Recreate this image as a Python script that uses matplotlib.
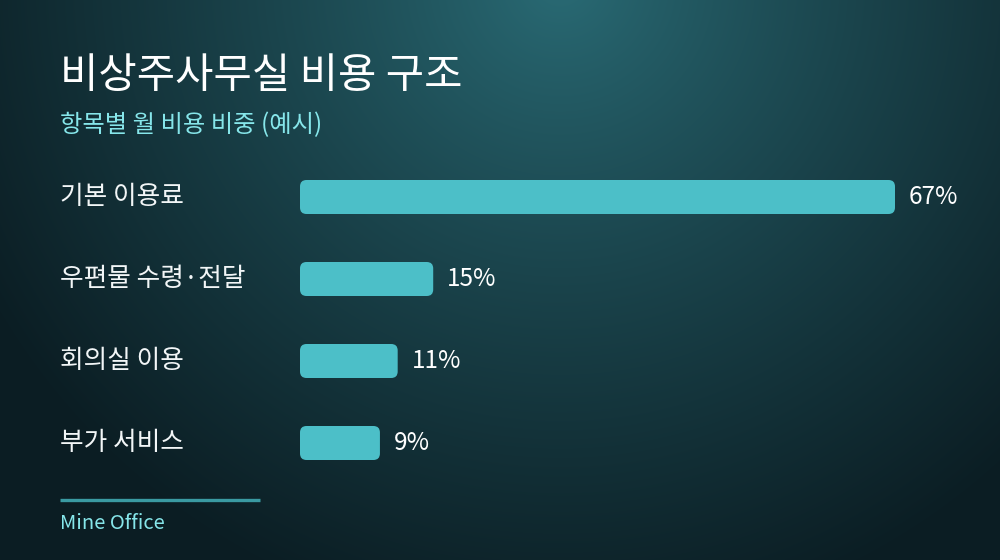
import numpy as np
import matplotlib
matplotlib.use("Agg")
import matplotlib.pyplot as plt
from matplotlib.patches import FancyBboxPatch
from matplotlib.colors import to_rgb
from matplotlib.transforms import blended_transform_factory

plt.rcParams['font.family'] = ['Noto Sans CJK KR', 'DejaVu Sans']

# ---- data ----
title = "비상주사무실 비용 구조"
subtitle = "항목별 월 비용 비중 (예시)"
categories = ["기본 이용료", "우편물 수령·전달", "회의실 이용", "부가 서비스"]
values = [67, 15, 11, 9]
value_labels = ["67%", "15%", "11%", "9%"]
footer = "Mine Office"

W, H = 1000, 560
fig = plt.figure(figsize=(W / 100, H / 100), dpi=100)

# background radial gradient
bg = fig.add_axes([0, 0, 1, 1])
yy, xx = np.mgrid[0:H, 0:W]
d = np.sqrt((xx - 560.0) ** 2 + (yy + 20.0) ** 2)
t = np.clip(d / 660.0, 0, 1) ** 0.85
c0 = np.array(to_rgb("#2a6c76"))
c1 = np.array(to_rgb("#0b1d23"))
img = c0[None, None, :] * (1 - t[..., None]) + c1[None, None, :] * t[..., None]
bg.imshow(img, extent=[0, W, H, 0], aspect='auto', interpolation='bilinear')
bg.set_xlim(0, W)
bg.set_ylim(H, 0)
bg.axis('off')

# bar axes: x 300..1000 px, y 156..484 px
left_px, right_px, top_px, bot_px = 300, 1000, 156, 484
ax = fig.add_axes([left_px / W, 1 - bot_px / H, (right_px - left_px) / W, (bot_px - top_px) / H])
ax.patch.set_alpha(0)
px_per_pct = 595 / 67.0
xmax = (right_px - left_px) / px_per_pct
ax.set_xlim(0, xmax)
n = len(categories)
ax.set_ylim(n - 0.5, -0.5)
ax.axis('off')

bar_h = 34 / 82.0
px_per_y = (bot_px - top_px) / n
r_px = 6.5
bar_color = "#4cbfc8"
for i, (v, lab) in enumerate(zip(values, value_labels)):
    p = FancyBboxPatch((0, i - bar_h / 2), v, bar_h,
                       boxstyle=f"round,pad=0,rounding_size={r_px / px_per_pct}",
                       mutation_aspect=px_per_pct / px_per_y,
                       facecolor=bar_color, edgecolor='none')
    ax.add_patch(p)
    ax.annotate(lab, xy=(v, i), xytext=(10, 0), textcoords='offset points',
                va='center', ha='left', color='white', fontsize=17.5)

trans = blended_transform_factory(fig.transFigure, ax.transData)
for i, c in enumerate(categories):
    ax.text(60 / W, i, c, transform=trans, va='center', ha='left',
            color='#f2f6f7', fontsize=18.5)

fig.text(60 / W, 1 - 88 / H, title, color='white', fontsize=30, va='baseline', ha='left')
fig.text(60 / W, 1 - 132 / H, subtitle, color='#86e6ea', fontsize=17.5, va='baseline', ha='left')

bg.plot([60, 260], [500, 500], color='#3a9aa2', lw=2.4, solid_capstyle='butt')
fig.text(60 / W, 1 - 529 / H, footer, color='#86e6ea', fontsize=14.5, va='baseline', ha='left')

fig.savefig("out.png", dpi=100)
